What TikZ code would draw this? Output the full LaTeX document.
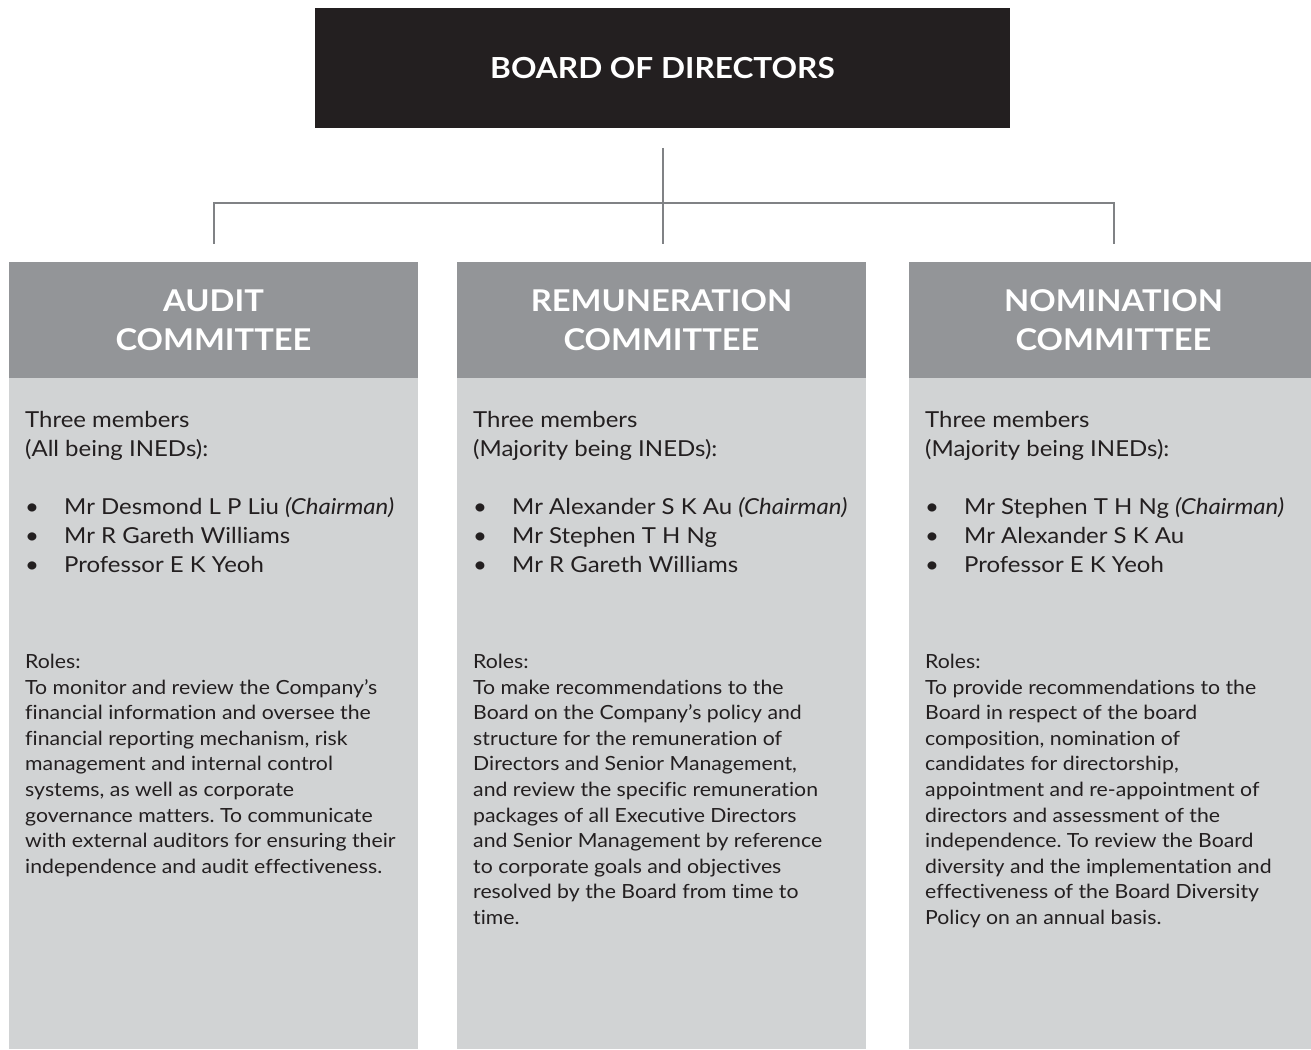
\documentclass[tikz,border=0pt]{standalone}
\usepackage{fontspec}
\setmainfont{Lato}[FakeStretch=1.09, Ligatures=NoCommon]
\usetikzlibrary{positioning}
\frenchspacing

\definecolor{boardblack}{HTML}{231F20}
\definecolor{headgrey}{HTML}{939598}
\definecolor{bodygrey}{HTML}{D1D3D4}
\definecolor{linkgrey}{HTML}{808285}
\definecolor{inkgrey}{HTML}{231F20}

\newcommand{\member}[1]{\makebox[39pt][l]{\textbullet}#1}

\tikzset{
  board/.style={fill=boardblack, text=white, outer sep=0pt,
    minimum width=695pt, minimum height=120pt,
    font=\fontsize{29}{35}\selectfont\bfseries},
  head/.style={fill=headgrey, text=white, outer sep=0pt, align=center,
    minimum width=409pt, minimum height=116pt,
    font=\fontsize{30}{39}\selectfont\bfseries},
  body/.style={fill=bodygrey, outer sep=0pt, anchor=north,
    minimum width=409pt, minimum height=671pt},
  members/.style={align=left, inner sep=0pt, text=inkgrey,
    font=\fontsize{22}{29}\selectfont},
  roles/.style={align=left, inner sep=0pt, text=inkgrey,
    font=\fontsize{19.5}{25.6}\selectfont},
  link/.style={draw=linkgrey, line width=2pt}
}

\begin{document}
\begin{tikzpicture}[x=1pt,y=1pt]
  \useasboundingbox (0,0) rectangle (1311,1049);

  \node[board] (board) at (662.5,981) {BOARD OF DIRECTORS};

  \begin{scope}[xshift=213.5pt]
    \node[body] (auditbody) at (0,671) {};
    \node[head, above=0pt of auditbody] (audithead) {AUDIT\\COMMITTEE};
    \node[members, below right=33pt and 16pt of auditbody.north west] (auditmembers)
      {Three members\\(All being INEDs):\\[29pt]
       \member{Mr Desmond L P Liu \textit{(Chairman)}}\\
       \member{Mr R Gareth Williams}\\
       \member{Professor E K Yeoh}};
    \node[roles, below right=276pt and 16pt of auditbody.north west] (auditroles)
      {Roles:\\
       To monitor and review the Company’s\\
       financial information and oversee the\\
       financial reporting mechanism, risk\\
       management and internal control\\
       systems, as well as corporate\\
       governance matters. To communicate\\
       with external auditors for ensuring their\\
       independence and audit effectiveness.};
  \end{scope}

  \begin{scope}[xshift=661.5pt]
    \node[body] (remunbody) at (0,671) {};
    \node[head, above=0pt of remunbody] (remunhead) {REMUNERATION\\COMMITTEE};
    \node[members, below right=33pt and 16pt of remunbody.north west] (remunmembers)
      {Three members\\(Majority being INEDs):\\[29pt]
       \member{Mr Alexander S K Au \textit{(Chairman)}}\\
       \member{Mr Stephen T H Ng}\\
       \member{Mr R Gareth Williams}};
    \node[roles, below right=276pt and 16pt of remunbody.north west] (remunroles)
      {Roles:\\
       To make recommendations to the\\
       Board on the Company’s policy and\\
       structure for the remuneration of\\
       Directors and Senior Management,\\
       and review the specific remuneration\\
       packages of all Executive Directors\\
       and Senior Management by reference\\
       to corporate goals and objectives\\
       resolved by the Board from time to\\
       time.};
  \end{scope}

  \begin{scope}[xshift=1113.5pt]
    \node[body] (nominbody) at (0,671) {};
    \node[head, above=0pt of nominbody] (nominhead) {NOMINATION\\COMMITTEE};
    \node[members, below right=33pt and 16pt of nominbody.north west] (nominmembers)
      {Three members\\(Majority being INEDs):\\[29pt]
       \member{Mr Stephen T H Ng \textit{(Chairman)}}\\
       \member{Mr Alexander S K Au}\\
       \member{Professor E K Yeoh}};
    \node[roles, below right=276pt and 16pt of nominbody.north west] (nominroles)
      {Roles:\\
       To provide recommendations to the\\
       Board in respect of the board\\
       composition, nomination of\\
       candidates for directorship,\\
       appointment and re-appointment of\\
       directors and assessment of the\\
       independence. To review the Board\\
       diversity and the implementation and\\
       effectiveness of the Board Diversity\\
       Policy on an annual basis.};
  \end{scope}

  %% tree lines
  \coordinate (hub) at ([yshift=-75pt]board.south);
  \coordinate (remuntop) at ([yshift=18pt]remunhead.north);
  \draw[link] ([yshift=-20pt]board.south) -- (hub);
  \draw[link] ([yshift=18pt]audithead.north) |- (hub) -| ([yshift=18pt]nominhead.north);
  \draw[link] (hub) -- (hub |- remuntop);
\end{tikzpicture}
\end{document}
